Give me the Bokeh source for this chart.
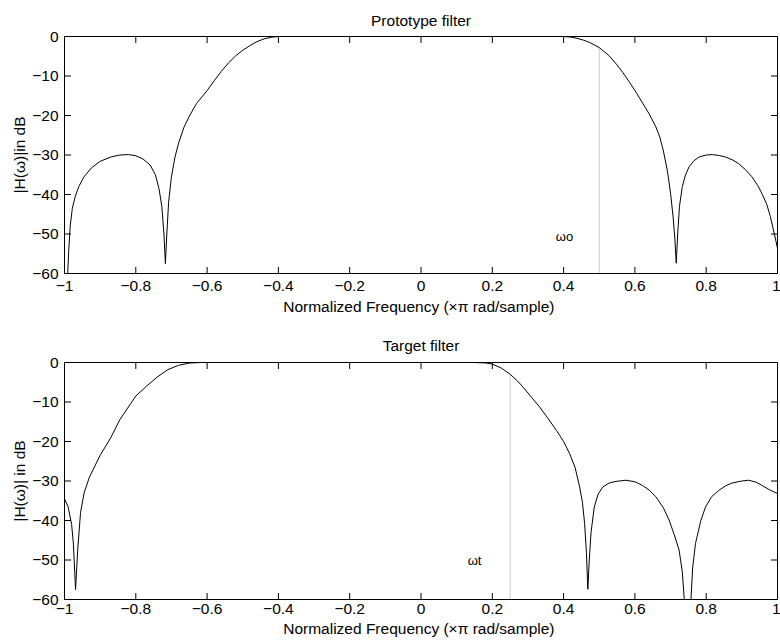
from bokeh.plotting import figure
from bokeh.layouts import column
from bokeh.models import Range1d, FixedTicker, CustomJSTickFormatter
from bokeh.core.properties import value
from bokeh.embed import file_html
from bokeh.resources import INLINE

# ---------------- data ----------------
X_MIN, X_MAX = -1, 1
Y_MIN, Y_MAX = -60, 0
x_ticks = [-1, -0.8, -0.6, -0.4, -0.2, 0, 0.2, 0.4, 0.6, 0.8, 1]
y_ticks = [0, -10, -20, -30, -40, -50, -60]

proto_x = [-1.0, -0.995, -0.991, -0.988, -0.984, -0.978, -0.97, -0.96, -0.945, -0.925, -0.9,
           -0.87, -0.845, -0.82,
           -0.8, -0.78, -0.76, -0.745, -0.735, -0.727, -0.721, -0.717, -0.713, -0.708,
           -0.7, -0.69, -0.68, -0.665, -0.65, -0.63, -0.6, -0.58, -0.56, -0.54, -0.52,
           -0.5, -0.48, -0.46, -0.44, -0.42, -0.4, -0.2, 0.0, 0.2, 0.4,
           0.42, 0.435, 0.455, 0.473, 0.5, 0.528, 0.55, 0.566, 0.585, 0.603, 0.62, 0.64,
           0.659, 0.67, 0.68, 0.691, 0.7, 0.707, 0.712, 0.716, 0.72, 0.725, 0.733, 0.742,
           0.752, 0.765, 0.78, 0.8, 0.817, 0.835, 0.854, 0.875, 0.891, 0.91, 0.928, 0.945,
           0.956, 0.97, 0.98, 0.99, 1.0]
proto_y = [-85.0, -70.0, -60.0, -54.0, -48.0, -43.5, -40.5, -38.0, -35.5, -33.3, -31.6,
           -30.5, -30.0, -29.9,
           -30.2, -31.0, -32.5, -35.0, -38.5, -43.0, -50.0, -57.5, -50.0, -42.0,
           -35.5, -30.5, -27.0, -23.0, -20.2, -17.0, -13.7, -11.2, -8.8, -6.7, -4.9,
           -3.5, -2.3, -1.3, -0.6, -0.2, 0.0, 0.0, 0.0, 0.0, 0.0,
           -0.15, -0.4, -0.9, -1.5, -2.8, -4.9, -7.2, -9.1, -11.6, -14.1, -16.6, -19.6,
           -22.9, -25.5, -29.0, -33.9, -39.7, -45.5, -51.0, -57.4, -50.0, -43.0, -38.0, -35.0,
           -33.0, -31.5, -30.5, -30.0, -29.9, -30.1, -30.5, -31.3, -32.2, -33.7, -35.5, -37.8,
           -39.7, -42.5, -45.6, -49.5, -53.6]

target_x = [-1.0, -0.99, -0.98, -0.975, -0.969, -0.963, -0.955, -0.945, -0.93, -0.9, -0.87,
            -0.845, -0.8, -0.77, -0.74, -0.71, -0.68, -0.65, -0.62, -0.4, -0.2, 0.0, 0.15,
            0.18, 0.2, 0.225, 0.249, 0.27, 0.287, 0.31, 0.333, 0.355, 0.38, 0.4, 0.417,
            0.432, 0.445, 0.453, 0.459, 0.464, 0.468, 0.472, 0.477, 0.486, 0.497, 0.51,
            0.528, 0.547, 0.575, 0.6, 0.621, 0.64, 0.659, 0.68, 0.696, 0.71, 0.724, 0.733,
            0.74, 0.748, 0.756, 0.762, 0.77, 0.785, 0.798, 0.815, 0.835, 0.855, 0.873, 0.9,
            0.919, 0.94, 0.956, 0.975, 1.0]
target_y = [-34.5, -36.5, -41.0, -46.0, -57.5, -47.5, -38.0, -33.0, -29.0, -23.5, -19.0,
            -14.5, -8.5, -6.0, -3.7, -1.8, -0.7, -0.15, 0.0, 0.0, 0.0, 0.0, 0.0,
            -0.1, -0.4, -1.4, -2.9, -4.6, -6.3, -8.8, -11.3, -14.0, -17.2, -20.0, -23.1,
            -26.5, -31.5, -35.5, -40.8, -48.0, -57.4, -50.0, -43.0, -36.6, -33.3, -31.5,
            -30.5, -30.1, -29.8, -30.2, -31.1, -32.3, -34.0, -36.8, -39.9, -43.5, -47.5, -53.0,
            -62.0, -80.0, -62.0, -52.0, -45.8, -40.0, -36.6, -34.0, -32.4, -31.2, -30.5, -30.0,
            -29.8, -30.3, -31.1, -32.1, -33.2]

proto_mark_x, proto_mark_top = [0.5], [-2.8]
target_mark_x, target_mark_top = [0.25], [-2.9]

proto_lab_x, proto_lab_y, proto_lab = [0.378], [-50.7], ["ωo"]
target_lab_x, target_lab_y, target_lab = [0.131], [-50.2], ["ωt"]

titles = ["Prototype filter", "Target filter"]
ylabels = ["|H(ω)|in dB", "|H(ω)| in dB"]
xlabel = "Normalized Frequency  (×π rad/sample)"

FONT = "Liberation Sans"
FS = "15.5px"
FRAME_W, FRAME_H = 713, 237      # frame size in px
TICK_PX = 6.5                    # inward tick length in px

fmt_code = """
if (Math.abs(tick) < 1e-9) { return "0"; }
const r = Math.round(tick * 10) / 10;
return String(r).replace("-", "\\u2212");
"""


def style_axis(ax, tick_standoff, label_standoff):
    ax.major_tick_in = 0
    ax.major_tick_out = 0
    ax.minor_tick_line_color = None
    ax.axis_line_color = "black"
    ax.major_label_text_font = FONT
    ax.major_label_text_color = "black"
    ax.major_label_text_font_size = FS
    ax.major_label_standoff = tick_standoff
    ax.axis_label_text_font = FONT
    ax.axis_label_text_font_size = FS
    ax.axis_label_text_font_style = "normal"
    ax.axis_label_text_color = "black"
    ax.axis_label_standoff = label_standoff
    ax.formatter = CustomJSTickFormatter(code=fmt_code)


def make(title, ylabel, xs, ys, mx, mtop, lx, ly, lt, h, top_border, bottom_border,
         xstand, tstand):
    p = figure(width=780, height=h, x_range=Range1d(X_MIN, X_MAX),
               y_range=Range1d(Y_MIN, Y_MAX),
               output_backend="svg", toolbar_location=None, title=title,
               min_border_left=64, min_border_right=3, min_border_top=top_border,
               min_border_bottom=bottom_border)
    p.grid.visible = False
    p.outline_line_color = "black"
    p.outline_line_width = 1
    p.background_fill_color = "white"
    p.border_fill_color = "white"
    p.title.align = "center"
    p.title.text_font = FONT
    p.title.text_font_size = FS
    p.title.text_font_style = "normal"
    p.title.text_color = "black"
    p.title.standoff = tstand

    p.xaxis.ticker = FixedTicker(ticks=x_ticks)
    p.yaxis.ticker = FixedTicker(ticks=y_ticks)
    p.xaxis.axis_label = xlabel
    p.yaxis.axis_label = ylabel
    for ax in p.xaxis:
        style_axis(ax, xstand[0], xstand[1])
    for ax in p.yaxis:
        style_axis(ax, 6, 1)

    # inward ticks on all four edges of the box
    dy = TICK_PX * (Y_MAX - Y_MIN) / FRAME_H
    dx = TICK_PX * (X_MAX - X_MIN) / FRAME_W
    n = len(x_ticks)
    tc = "black"
    p.segment(x0=x_ticks, y0=[Y_MIN] * n, x1=x_ticks, y1=[Y_MIN + dy] * n,
              line_color=tc, line_width=1)
    p.segment(x0=x_ticks, y0=[Y_MAX] * n, x1=x_ticks, y1=[Y_MAX - dy] * n,
              line_color=tc, line_width=1)
    m = len(y_ticks)
    p.segment(x0=[X_MIN] * m, y0=y_ticks, x1=[X_MIN + dx] * m, y1=y_ticks,
              line_color=tc, line_width=1)
    p.segment(x0=[X_MAX] * m, y0=y_ticks, x1=[X_MAX - dx] * m, y1=y_ticks,
              line_color=tc, line_width=1)

    p.segment(x0=mx, y0=[Y_MIN] * len(mx), x1=mx, y1=mtop, line_color="#cccccc",
              line_width=1)
    p.line(xs, ys, line_color="black", line_width=1)
    p.text(x=lx, y=ly, text=lt, text_font=value(FONT), text_font_size="13px",
           text_align="left", text_baseline="middle", text_color="black")
    return p


p1 = make(titles[0], ylabels[0], proto_x, proto_y, proto_mark_x, proto_mark_top,
          proto_lab_x, proto_lab_y, proto_lab, 324, 36, 51, (7, 4), 16)
p2 = make(titles[1], ylabels[1], target_x, target_y, target_mark_x, target_mark_top,
          target_lab_x, target_lab_y, target_lab, 316, 38, 41, (4, 3), 18)

layout = column(p1, p2)
open("out.html", "w").write(file_html(layout, INLINE))
